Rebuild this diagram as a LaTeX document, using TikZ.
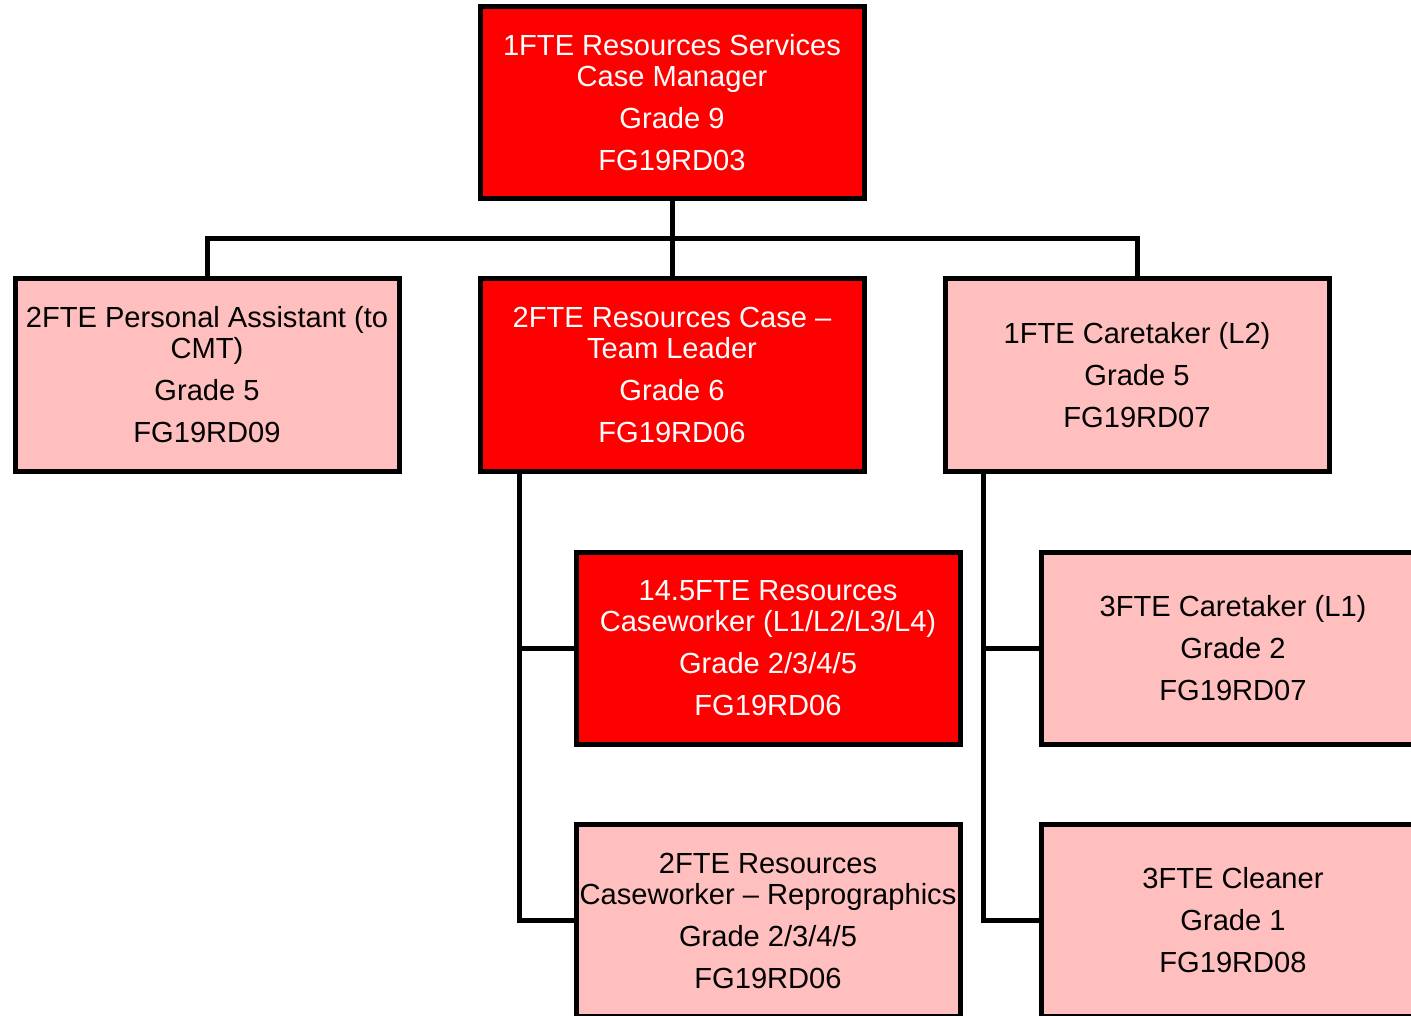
\documentclass[tikz,border=0pt]{standalone}
\usepackage{fontspec}
\setmainfont{Liberation Sans}
\definecolor{boxred}{RGB}{255,0,0}
\definecolor{boxpink}{RGB}{255,191,191}
\begin{document}
\begin{tikzpicture}[x=1pt,y=-1pt,
  post/.style={rectangle,draw=black,line width=5pt,minimum width=384pt,minimum height=192pt,
    inner sep=0pt,align=center,font=\fontsize{29.1}{31}\selectfont},
  redpost/.style={post,fill=boxred,text=white},
  pinkpost/.style={post,fill=boxpink,text=black},
  link/.style={draw=black,line width=5pt}]
\clip (0,0) rectangle (1411,1016);
\fill[white] (0,0) rectangle (1411,1016);
\node[redpost] (top) at (672,102.5) {1FTE Resources Services\\Case Manager\\[11pt]Grade 9\\[11pt]FG19RD03};
\node[pinkpost] (pa) at (207,375) {2FTE Personal Assistant (to\\CMT)\\[11pt]Grade 5\\[11pt]FG19RD09};
\node[redpost] (tl) at (672,375) {2FTE Resources Case –\\Team Leader\\[11pt]Grade 6\\[11pt]FG19RD06};
\node[pinkpost] (ct2) at (1137,375) {1FTE Caretaker (L2)\\[11pt]Grade 5\\[11pt]FG19RD07};
\node[redpost] (cw) at (768,648) {14.5FTE Resources\\Caseworker (L1/L2/L3/L4)\\[11pt]Grade 2/3/4/5\\[11pt]FG19RD06};
\node[pinkpost] (ct1) at (1233,648) {3FTE Caretaker (L1)\\[11pt]Grade 2\\[11pt]FG19RD07};
\node[pinkpost] (rep) at (768,920.5) {2FTE Resources\\Caseworker – Reprographics\\[11pt]Grade 2/3/4/5\\[11pt]FG19RD06};
\node[pinkpost] (cl) at (1233,920.5) {3FTE Cleaner\\[11pt]Grade 1\\[11pt]FG19RD08};
\coordinate (bus) at (672,239);
\coordinate (tlb) at ([xshift=-153pt]tl.south);
\coordinate (ctb) at ([xshift=-154pt]ct2.south);
\path[link] (top.south) -- (tl.north);
\path[link] (pa.north) |- (bus) -| (ct2.north);
\path[link] (tlb) |- (rep.west);
\path[link] (cw.west) -- (cw.west -| tlb);
\path[link] (ctb) |- (cl.west);
\path[link] (ct1.west) -- (ct1.west -| ctb);
\end{tikzpicture}
\end{document}
